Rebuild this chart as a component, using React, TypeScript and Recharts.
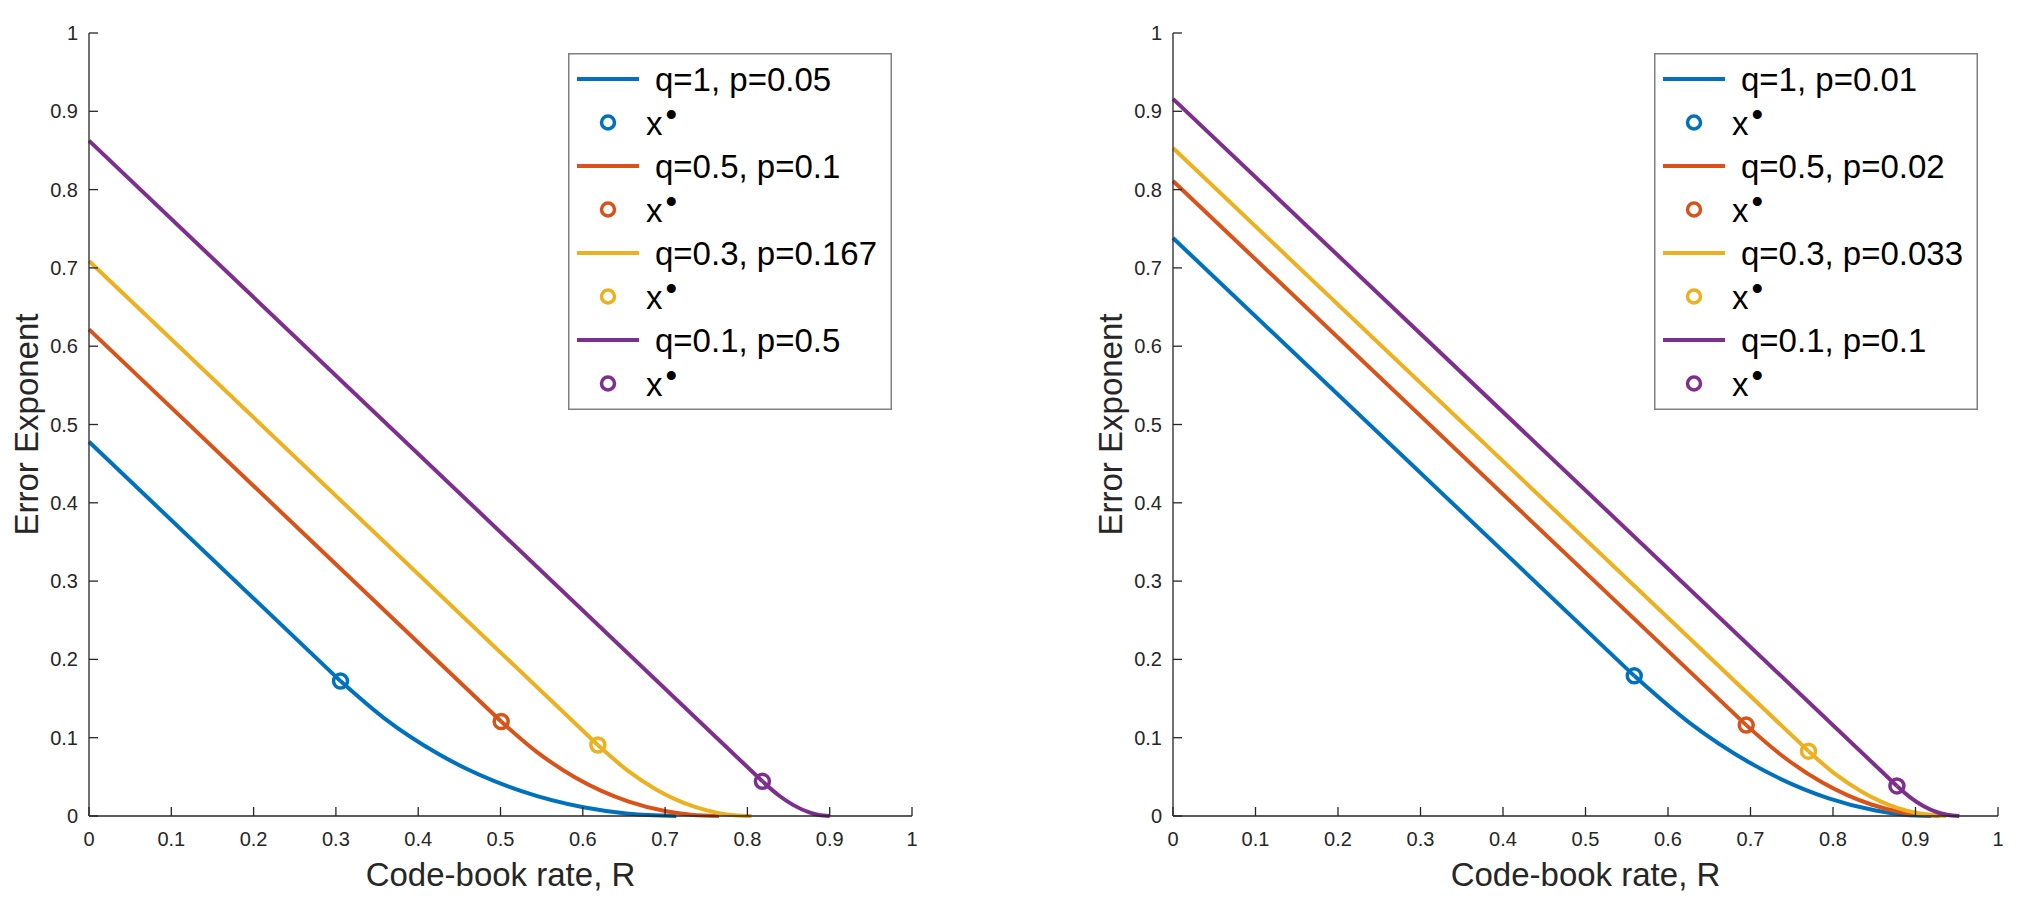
import React from "react"
import { LineChart, Line, XAxis, YAxis } from "recharts"

type Pt = { x: number; y: number }

const FONT = '"Liberation Sans", Arial, Helvetica, sans-serif'
const AXIS = "#262626"

const ticks = [0, 0.1, 0.2, 0.3, 0.4, 0.5, 0.6, 0.7, 0.8, 0.9, 1]
const colors = ["#0072BD", "#D95319", "#EDB120", "#7E2F8E"]

// left panel (q*p = 0.05)
const leftLabels = ["q=1, p=0.05", "q=0.5, p=0.1", "q=0.3, p=0.167", "q=0.1, p=0.5"]
const leftStart = [0.4779, 0.6215, 0.7089, 0.8625] // exponent at R = 0
const leftMarkR = [0.3056, 0.5008, 0.6183, 0.8182]
const leftMarkE = [0.1723, 0.1207, 0.0906, 0.0443]
const leftTailR = [
  [0.3056, 0.3585, 0.4236, 0.5264, 0.6008, 0.6555, 0.7136],
  [0.5008, 0.544, 0.5908, 0.6559, 0.6998, 0.7315, 0.7655],
  [0.6183, 0.6538, 0.6896, 0.7353, 0.7639, 0.7839, 0.805],
  [0.8182, 0.8379, 0.8559, 0.876, 0.8868, 0.9],
]
const leftTailE = [
  [0.1723, 0.125, 0.0797, 0.0314, 0.0111, 0.0029, 0],
  [0.1207, 0.0819, 0.0492, 0.0184, 0.0064, 0.0017, 0],
  [0.0906, 0.0586, 0.0336, 0.0119, 0.004, 0.001, 0],
  [0.0443, 0.0265, 0.0139, 0.0043, 0.0013, 0],
]

// right panel (q*p = 0.01)
const rightLabels = ["q=1, p=0.01", "q=0.5, p=0.02", "q=0.3, p=0.033", "q=0.1, p=0.1"]
const rightStart = [0.7382, 0.811, 0.8531, 0.9159]
const rightMarkR = [0.5591, 0.6948, 0.7703, 0.8775]
const rightMarkE = [0.179, 0.1161, 0.0828, 0.0384]
const rightTailR = [
  [0.5591, 0.6258, 0.6987, 0.7948, 0.8515, 0.887, 0.9192],
  [0.6948, 0.7395, 0.786, 0.8465, 0.883, 0.9293],
  [0.7703, 0.8029, 0.8359, 0.8779, 0.9035, 0.9372],
  [0.8775, 0.8936, 0.9089, 0.9272, 0.9382, 0.9531],
]
const rightTailE = [
  [0.179, 0.1192, 0.0682, 0.0226, 0.007, 0.0016, 0],
  [0.1161, 0.076, 0.0434, 0.0147, 0.0047, 0],
  [0.0828, 0.0534, 0.0304, 0.0104, 0.0034, 0],
  [0.0384, 0.0239, 0.0132, 0.0045, 0.0015, 0],
]

type Series = { color: string; straight: Pt[]; tail: Pt[]; mark: Pt[] }

function buildSeries(start: number[], mr: number[], me: number[], tr: number[][], te: number[][]): Series[] {
  return start.map((s, i) => ({
    color: colors[i],
    straight: [
      { x: 0, y: s },
      { x: mr[i], y: me[i] },
    ],
    tail: tr[i].map((r, j) => ({ x: r, y: te[i][j] })),
    mark: [{ x: mr[i], y: me[i] }],
  }))
}

const leftSeries = buildSeries(leftStart, leftMarkR, leftMarkE, leftTailR, leftTailE)
const rightSeries = buildSeries(rightStart, rightMarkR, rightMarkE, rightTailR, rightTailE)

const fmt = (v: number) => (v === 0 || v === 1 ? String(v) : v.toFixed(1))

const XTick = ({ x, y, payload }: any) => (
  <g>
    <line x1={x} y1={y} x2={x} y2={y - 9} stroke={AXIS} strokeWidth={1.3} />
    <text x={x} y={y + 30} textAnchor="middle" fontSize={20} fill={AXIS} fontFamily={FONT}>
      {fmt(payload.value)}
    </text>
  </g>
)

const YTick = ({ x, y, payload }: any) => (
  <g>
    <line x1={x} y1={y} x2={x + 9} y2={y} stroke={AXIS} strokeWidth={1.3} />
    <text x={x - 11} y={y + 7} textAnchor="end" fontSize={20} fill={AXIS} fontFamily={FONT}>
      {fmt(payload.value)}
    </text>
  </g>
)

function LegendBox({ left, labels }: { left: number; labels: string[] }) {
  const rowY = (k: number) => 26 + 43.5 * k
  return (
    <svg width={324} height={357} style={{ position: "absolute", left, top: 53 }}>
      <rect x={0.75} y={0.75} width={322.5} height={355.5} fill="#fff" stroke="#808080" strokeWidth={1.5} />
      {labels.map((lab, i) => (
        <g key={lab}>
          <line x1={9} x2={71} y1={rowY(2 * i)} y2={rowY(2 * i)} stroke={colors[i]} strokeWidth={4} />
          <text x={87} y={rowY(2 * i) + 12} fontSize={33} fontFamily={FONT} fill="#000">
            {lab}
          </text>
          <circle cx={40} cy={rowY(2 * i + 1)} r={6.5} fill="none" stroke={colors[i]} strokeWidth={3.5} />
          <text x={78} y={rowY(2 * i + 1) + 12.5} fontSize={33} fontFamily={FONT} fill="#000">
            x
            <tspan dx={3} dy={-9}>
              •
            </tspan>
          </text>
        </g>
      ))}
    </svg>
  )
}

function Panel({ series, marginLeft, marginRight, width }: { series: Series[]; marginLeft: number; marginRight: number; width: number }) {
  return (
    <LineChart width={width} height={899} margin={{ top: 33, right: marginRight, left: marginLeft, bottom: 43 }}>
      <XAxis
        type="number"
        dataKey="x"
        domain={[0, 1]}
        ticks={ticks}
        interval={0}
        tickSize={0}
        tickMargin={0}
        height={40}
        tickLine={false}
        tick={(p: any) => <XTick {...p} />}
        axisLine={{ stroke: AXIS, strokeWidth: 1.3 }}
        label={{ value: "Code-book rate, R", position: "bottom", offset: 7, fontSize: 33, fill: AXIS, fontFamily: FONT }}
      />
      <YAxis
        type="number"
        dataKey="y"
        domain={[0, 1]}
        ticks={ticks}
        interval={0}
        tickSize={0}
        tickMargin={0}
        width={60}
        tickLine={false}
        tick={(p: any) => <YTick {...p} />}
        axisLine={{ stroke: AXIS, strokeWidth: 1.3 }}
        label={{
          value: "Error Exponent",
          angle: -90,
          position: "insideLeft",
          offset: -3,
          fontSize: 33,
          fill: AXIS,
          fontFamily: FONT,
          style: { textAnchor: "middle" },
        }}
      />
      {series.flatMap((s, i) => [
        <Line
          key={`s${i}`}
          data={s.straight}
          dataKey="y"
          type="linear"
          stroke={s.color}
          strokeWidth={4}
          dot={false}
          activeDot={false}
          isAnimationActive={false}
        />,
        <Line
          key={`t${i}`}
          data={s.tail}
          dataKey="y"
          type="monotone"
          stroke={s.color}
          strokeWidth={4}
          dot={false}
          activeDot={false}
          isAnimationActive={false}
        />,
        <Line
          key={`m${i}`}
          data={s.mark}
          dataKey="y"
          stroke="none"
          dot={{ r: 7, stroke: s.color, strokeWidth: 3.5, fill: "none" }}
          activeDot={false}
          isAnimationActive={false}
        />,
      ])}
    </LineChart>
  )
}

export default function App() {
  return (
    <div style={{ position: "absolute", left: 0, top: 0, width: 2017, height: 899, background: "#fff", fontFamily: FONT }}>
      <div style={{ position: "absolute", left: 0, top: 0 }}>
        <Panel series={leftSeries} width={1008} marginLeft={29} marginRight={96} />
      </div>
      <LegendBox left={568} labels={leftLabels} />
      <div style={{ position: "absolute", left: 1008, top: 0 }}>
        <Panel series={rightSeries} width={1009} marginLeft={105} marginRight={19} />
      </div>
      <LegendBox left={1654} labels={rightLabels} />
    </div>
  )
}
